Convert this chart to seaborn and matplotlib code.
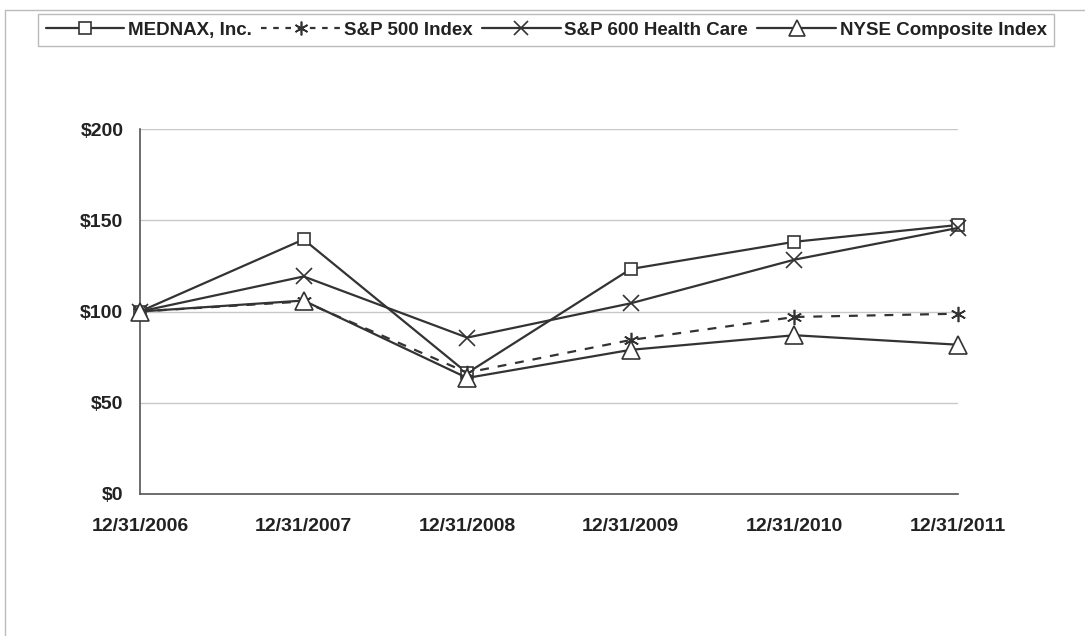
import matplotlib
matplotlib.use("Agg")
import matplotlib.pyplot as plt
import seaborn as sns
import pandas as pd
from matplotlib.lines import Line2D

dates = ["12/31/2006", "12/31/2007", "12/31/2008", "12/31/2009", "12/31/2010", "12/31/2011"]
mednax = [100, 139.5, 66.3, 123.3, 138.2, 147.4]
sp500 = [100, 105.5, 66.5, 84.4, 97.0, 98.8]
sp600hc = [100, 119.2, 85.7, 104.5, 128.4, 145.8]
nyse = [100, 106.0, 63.6, 79.0, 87.0, 81.8]
series_names = ["MEDNAX, Inc.", "S&P 500 Index", "S&P 600 Health Care", "NYSE Composite Index"]
yticks = [0, 50, 100, 150, 200]
ytick_labels = ["$0", "$50", "$100", "$150", "$200"]

sns.set_style("white")
plt.rcParams['font.family'] = ['Liberation Sans', 'DejaVu Sans']

fig = plt.figure(figsize=(10.85, 6.36), dpi=100)
ax = fig.add_axes([140/1085, 1-494/636, (958-140)/1085, (494-129)/636])

col = "#333333"
styles = [
    dict(marker="s", ms=9, mfc="white", mec=col, ls="-", mew=1.2),
    dict(marker=(6, 2, 0), ms=11, mfc=col, mec=col, ls=(0, (4, 4)), mew=1.2),
    dict(marker="x", ms=11, mfc=col, mec=col, ls="-", mew=1.2),
    dict(marker="^", ms=13, mfc="white", mec=col, ls="-", mew=1.2),
]
data = [mednax, sp500, sp600hc, nyse]
x = list(range(len(dates)))
handles = []
for name, vals, st in zip(series_names, data, styles):
    df = pd.DataFrame({"x": x, "y": vals})
    sns.lineplot(data=df, x="x", y="y", ax=ax, color=col, linewidth=1.6,
                 linestyle=st["ls"], marker=st["marker"], markersize=st["ms"],
                 markerfacecolor=st["mfc"], markeredgecolor=st["mec"],
                 markeredgewidth=st["mew"], zorder=3, clip_on=False)
    handles.append(Line2D([0], [0], color=col, linewidth=1.6,
                          linestyle=st["ls"] if st["ls"] == "-" else (0, (2.5, 3)),
                          marker=st["marker"], markersize=st["ms"] * 0.9,
                          markerfacecolor=st["mfc"], markeredgecolor=st["mec"],
                          markeredgewidth=st["mew"]))

ax.set_xlim(0, len(dates) - 1)
ax.set_ylim(0, 200)
ax.set_xticks(x)
ax.set_xticklabels(dates, fontsize=14, fontweight="bold", color="#222222")
ax.set_yticks(yticks)
ax.set_yticklabels(ytick_labels, fontsize=14, fontweight="bold", color="#222222")
ax.set_xlabel("")
ax.set_ylabel("")
ax.yaxis.grid(True, color="#c8c8c8", linewidth=1)
ax.set_axisbelow(True)
for s in ["top", "right"]:
    ax.spines[s].set_visible(False)
ax.spines["left"].set_color("#555555")
ax.spines["bottom"].set_color("#555555")
ax.spines["left"].set_linewidth(1.2)
ax.spines["bottom"].set_linewidth(1.2)
ax.tick_params(axis="x", direction="out", length=6, width=1, color="#555555", pad=11)
ax.tick_params(axis="y", length=0, pad=12)

leg = fig.legend(handles, series_names, loc="upper left", ncol=4,
                 bbox_to_anchor=(38/1085, 1-14/636), borderaxespad=0,
                 frameon=True, fancybox=False, handlelength=4.2,
                 handletextpad=0.2, columnspacing=0.5, borderpad=0.4,
                 prop={"weight": "bold", "size": 13.5})
leg.get_frame().set_edgecolor("#aaaaaa")
leg.get_frame().set_linewidth(1)
for t in leg.get_texts():
    t.set_color("#222222")

fig.add_artist(Line2D([5/1085, 1], [1-10/636, 1-10/636], color="#bbbbbb", lw=1, transform=fig.transFigure))
fig.add_artist(Line2D([5/1085, 5/1085], [0, 1-10/636], color="#bbbbbb", lw=1, transform=fig.transFigure))

fig.savefig("out.png", dpi=100)
